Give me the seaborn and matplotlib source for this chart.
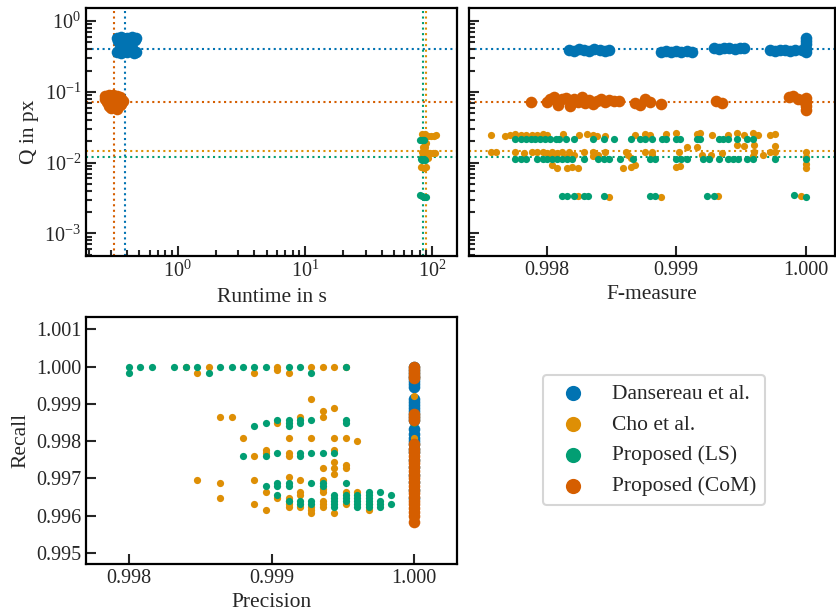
import matplotlib
matplotlib.use("Agg")
import matplotlib.pyplot as plt
import matplotlib.ticker as mticker
import seaborn as sns

methods = ["Dansereau et al.", "Cho et al.", "Proposed (LS)", "Proposed (CoM)"]

# medians (dotted guide lines)
q_median = [0.40, 0.0147, 0.0119, 0.072]
rt_median = [0.386, 90.3, 85.2, 0.313]

# ---- runtime vs Q
dan_runtime = [0.33, 0.36, 0.40, 0.44, 0.47, 0.34, 0.37, 0.42, 0.46, 0.36, 0.39, 0.42,
               0.35, 0.38, 0.41, 0.44, 0.33, 0.36, 0.40, 0.45, 0.47, 0.38]
dan_q_rt = [0.58, 0.59, 0.57, 0.59, 0.58, 0.52, 0.53, 0.51, 0.54, 0.46, 0.45, 0.46,
            0.41, 0.40, 0.40, 0.42, 0.36, 0.35, 0.36, 0.35, 0.37, 0.38]
cho_runtime = [84, 88, 93, 98, 104, 107, 86, 90, 85, 88, 84, 90, 96, 102, 106, 83, 87, 92, 82, 86, 90]
cho_q_rt = [0.025, 0.025, 0.024, 0.024, 0.024, 0.0245, 0.020, 0.019, 0.0168, 0.0168, 0.0143,
            0.0140, 0.0137, 0.0135, 0.0135, 0.0120, 0.0118, 0.0118, 0.0088, 0.0085, 0.0086]
ls_runtime = [81, 83, 85, 87, 82, 84, 86, 88, 81, 84, 87, 90]
ls_q_rt = [0.021, 0.021, 0.021, 0.021, 0.0112, 0.0110, 0.0111, 0.0110, 0.0035, 0.0034, 0.0033, 0.0033]
com_runtime = [0.27, 0.29, 0.31, 0.33, 0.35, 0.27, 0.30, 0.33, 0.36, 0.37, 0.28, 0.31, 0.34,
               0.36, 0.29, 0.32, 0.35, 0.30, 0.33]
com_q_rt = [0.088, 0.090, 0.089, 0.086, 0.084, 0.078, 0.079, 0.077, 0.079, 0.074, 0.071, 0.072,
            0.070, 0.068, 0.064, 0.065, 0.066, 0.060, 0.058]

# ---- F-measure vs Q
dan_f = [0.99817, 0.99821, 0.99825, 0.99829, 0.99833, 0.99837, 0.99841, 0.99845, 0.99848,
         0.99888, 0.99892, 0.99896, 0.99900, 0.99904, 0.99908, 0.99912,
         0.99929, 0.99933, 0.99937, 0.99941, 0.99945, 0.99949, 0.99952,
         0.99972, 0.99976, 0.99980, 0.99984, 0.99988, 0.99992, 0.99997,
         1.0, 1.0, 1.0, 1.0, 1.0]
dan_q = [0.39, 0.38, 0.40, 0.39, 0.38, 0.40, 0.39, 0.38, 0.39,
         0.37, 0.38, 0.37, 0.375, 0.37, 0.38, 0.37,
         0.41, 0.40, 0.41, 0.41, 0.40, 0.41, 0.41,
         0.39, 0.38, 0.39, 0.39, 0.38, 0.39, 0.39,
         0.37, 0.40, 0.47, 0.53, 0.57]
cho_f = [0.99757, 0.99768, 0.99772, 0.99776, 0.99780, 0.99784, 0.99789, 0.99793, 0.99797, 0.99800,
         0.99813, 0.99825, 0.99831, 0.99836, 0.99839, 0.99845, 0.99868, 0.99876, 0.99880, 0.99892,
         0.99900, 0.99916, 0.99918, 0.99928, 0.99940, 0.99947, 0.99952, 0.99959, 0.99963, 0.99972,
         0.99976,
         0.99908, 0.99916, 0.99947, 0.99952, 0.99960, 0.99976,
         0.99757, 0.99761, 0.99776, 0.99783, 0.99789, 0.99793, 0.99797, 0.99800, 0.99804, 0.99808,
         0.99812, 0.99817, 0.99829, 0.99836, 0.99840, 0.99845, 0.99861, 0.99863, 0.99876, 0.99881,
         0.99902, 0.99920, 0.99927, 0.99935, 0.99960, 0.99967, 0.99972, 0.99976, 1.0,
         0.99803, 0.99807, 0.99815, 0.99821, 0.99836, 0.99865, 0.99881, 0.99959, 1.0,
         0.99804, 0.99808, 0.99816, 0.99820, 0.99824, 0.99859, 0.99865, 0.99868, 0.99900, 0.99903,
         1.0, 1.0,
         0.99824, 0.99848, 0.99888, 0.99932, 0.99996]
cho_q = [0.0245, 0.0236, 0.0245, 0.0252, 0.0245, 0.0245, 0.0245, 0.0245, 0.0252, 0.0245,
         0.0252, 0.0245, 0.0252, 0.0245, 0.0236, 0.0236, 0.0245, 0.0252, 0.0245, 0.0252,
         0.0259, 0.0252, 0.0259, 0.0245, 0.0245, 0.0259, 0.0245, 0.0259, 0.0245, 0.0245,
         0.0252,
         0.0168, 0.0168, 0.0177, 0.0172, 0.0177, 0.0172,
         0.0140, 0.0140, 0.0143, 0.0135, 0.0143, 0.0140, 0.0143, 0.0135, 0.0143, 0.0135,
         0.0140, 0.0143, 0.0140, 0.0140, 0.0129, 0.0143, 0.0143, 0.0129, 0.0143, 0.0140,
         0.0140, 0.0129, 0.0129, 0.0135, 0.0140, 0.0129, 0.0140, 0.0143, 0.0140,
         0.0121, 0.0121, 0.0121, 0.0127, 0.0123, 0.0118, 0.0129, 0.0123, 0.0121,
         0.0093, 0.0083, 0.0083, 0.0087, 0.0085, 0.0084, 0.0087, 0.0093, 0.0087, 0.0089,
         0.0097, 0.0083,
         0.0034, 0.0033, 0.0033, 0.0034, 0.0034]
ls_f = [0.99776, 0.99780, 0.99784, 0.99788, 0.99791, 0.99795, 0.99799, 0.99803, 0.99807, 0.99810,
        0.99815, 0.99821, 0.99836, 0.99844, 0.99852, 0.99865, 0.99872, 0.99876, 0.99881, 0.99889,
        0.99892, 0.99900, 0.99903, 0.99916, 0.99918, 0.99933, 0.99936, 0.99940, 0.99947, 0.99955,
        0.99959,
        0.99776, 0.99780, 0.99784, 0.99793, 0.99797, 0.99800, 0.99804, 0.99808, 0.99812, 0.99816,
        0.99820, 0.99829, 0.99840, 0.99844, 0.99848, 0.99857, 0.99867, 0.99880, 0.99884, 0.99900,
        0.99904, 0.99908, 0.99921, 0.99925, 0.99933, 0.99940, 0.99944, 0.99948, 0.99955, 0.99959,
        0.99976, 1.0,
        0.99812, 0.99816, 0.99821, 0.99829, 0.99832, 0.99844, 0.99880, 0.99884, 0.99924, 0.99929,
        0.99991, 1.0]
ls_q = [0.0213] * 31 + [0.0111] * 32 + \
       [0.0034, 0.0034, 0.0034, 0.0034, 0.0034, 0.0034, 0.0034, 0.0034, 0.0034, 0.0034, 0.0035, 0.0033]
com_f = [0.99788,
         0.99800, 0.99803, 0.99806, 0.99809, 0.99812, 0.99815, 0.99818, 0.99821, 0.99824, 0.99827,
         0.99830, 0.99833, 0.99836, 0.99839, 0.99842, 0.99845, 0.99848, 0.99852, 0.99856,
         0.99868, 0.99872, 0.99876, 0.99880, 0.99888,
         0.99931, 0.99935,
         0.99987, 0.99990, 0.99994, 0.99998, 1.0, 1.0, 1.0, 1.0]
com_q = [0.072,
         0.073, 0.080, 0.085, 0.066, 0.078, 0.083, 0.064, 0.080, 0.073, 0.085,
         0.070, 0.076, 0.067, 0.074, 0.078, 0.072, 0.076, 0.074, 0.075,
         0.070, 0.066, 0.078, 0.072, 0.068,
         0.074, 0.070,
         0.084, 0.086, 0.080, 0.076, 0.082, 0.072, 0.064, 0.056]

# ---- precision vs recall
dan_recall = [1.0, 0.99992, 0.99984, 0.99976, 0.99968, 0.9996, 0.99952, 0.99944,
              0.99912, 0.99904, 0.99896, 0.99888, 0.9988, 0.99872, 0.99864, 0.99856,
              0.99832, 0.9982, 0.99808, 0.998, 0.99792, 0.9978, 0.9977, 0.9975, 0.9973,
              0.9971, 0.9969, 0.9967, 0.99648]
dan_precision = [1.0] * len(dan_recall)
cho_precision = [0.9984, 0.99856, 0.99904, 0.99928, 0.99936, 0.99944, 0.99952, 0.99904,
                 0.99848, 0.99888, 0.99912,
                 0.99928, 0.99944, 0.99936, 0.99936, 0.99864, 0.99872, 0.9992, 0.99904, 1.0,
                 0.9988, 0.99912, 0.99928, 0.99944, 0.99952, 0.9996, 1.0,
                 0.99888, 0.99896, 0.99896, 0.99912, 0.99912, 0.99944,
                 0.99936, 0.99944, 0.99944, 0.99944, 0.99952, 0.99952,
                 0.99848, 0.99864, 0.99864, 0.99888, 0.99888, 0.99896, 0.99896, 0.99904,
                 0.99912, 0.99912, 0.99912, 0.99912, 0.99912, 0.9992, 0.9992, 0.9992, 0.9992,
                 0.99928, 0.99928, 0.99928, 0.99936, 0.99936, 0.99936, 0.99936, 0.99936,
                 0.99936, 0.99944, 0.99952, 0.99952, 0.9996, 0.99968, 0.99968]
cho_recall = [1.0, 1.0, 1.0, 1.0, 1.0, 1.0, 1.0, 0.99992,
              0.99984, 0.99984, 0.99984,
              0.99912, 0.99888, 0.9988, 0.99864, 0.99864, 0.99864, 0.99864, 0.99848, 0.9992,
              0.99808, 0.99808, 0.99808, 0.99808, 0.99808, 0.998, 0.99808,
              0.9976, 0.99776, 0.99768, 0.99768, 0.9976, 0.99776,
              0.99728, 0.99744, 0.99728, 0.99712, 0.99736, 0.99728,
              0.99696, 0.99688, 0.99648, 0.99696, 0.99632, 0.99664, 0.99616, 0.99648,
              0.99704, 0.99648, 0.9964, 0.99632, 0.99624, 0.99696, 0.99664, 0.99656, 0.99624,
              0.99624, 0.99616, 0.99608, 0.99696, 0.99672, 0.99664, 0.9964, 0.99632,
              0.99624, 0.99608, 0.99664, 0.99632, 0.99664, 0.99632, 0.99616]
ls_precision = [0.998, 0.99808, 0.99816, 0.99832, 0.9984, 0.99848, 0.99864, 0.99872, 0.9988,
                0.99888, 0.99896, 0.99912, 0.9992, 0.99952,
                0.998, 0.99856, 0.99928,
                0.99888, 0.99896, 0.99904, 0.99912, 0.99912, 0.99912, 0.9992, 0.9992, 0.99928,
                0.99952, 0.99952, 1.0,
                0.9988, 0.99896, 0.99904, 0.9992, 0.9992, 0.99928, 0.99936, 0.99944,
                0.99896, 0.99904, 0.99904, 0.99904, 0.99912, 0.99912, 0.99912, 0.9992, 0.9992,
                0.99928, 0.99928, 0.99928, 0.99936, 0.99936, 0.99944, 0.99944, 0.99944, 0.99944,
                0.99944, 0.99952, 0.99952, 0.99952, 0.99952, 0.9996, 0.9996, 0.9996, 0.9996,
                0.9996, 0.99968, 0.99968, 0.99968, 0.99968, 0.99968, 0.99968, 0.99976, 0.99976,
                0.99976, 0.99976, 0.99984, 0.99984]
ls_recall = [1.0, 1.0, 1.0, 1.0, 1.0, 1.0, 1.0, 1.0, 1.0,
             1.0, 1.0, 1.0, 1.0, 1.0,
             0.99984, 0.99984, 0.99984,
             0.9984, 0.99848, 0.99856, 0.99856, 0.99848, 0.9984, 0.99856, 0.99848, 0.99856,
             0.99856, 0.99848, 0.99848,
             0.9976, 0.9976, 0.99768, 0.99768, 0.9976, 0.99768, 0.99768, 0.99768,
             0.9968, 0.99688, 0.9968, 0.99656, 0.99688, 0.9968, 0.9964, 0.9964, 0.99632,
             0.99688, 0.9964, 0.99632, 0.99688, 0.9968, 0.99656, 0.99648, 0.9964, 0.99632,
             0.99624, 0.99688, 0.99656, 0.99648, 0.9964, 0.99656, 0.99648, 0.9964, 0.99632,
             0.99624, 0.99664, 0.99656, 0.99648, 0.9964, 0.99632, 0.99624, 0.99664, 0.9964,
             0.99632, 0.99624, 0.99656, 0.99632]
com_recall = [1.0, 0.99992, 0.99984, 0.99976, 0.99968, 0.99872, 0.99864, 0.99856,
              0.99792, 0.9978, 0.9977, 0.9976, 0.9975, 0.9974, 0.9973, 0.9972, 0.9971, 0.997,
              0.9969, 0.9968, 0.9967, 0.9966, 0.9965, 0.9964, 0.9963, 0.9962, 0.9961, 0.996,
              0.99584]
com_precision = [1.0] * len(com_recall)

sns.set_style("ticks")
plt.rcParams["font.family"] = ["Liberation Serif", "DejaVu Serif"]
plt.rcParams["mathtext.fontset"] = "custom"
plt.rcParams["mathtext.rm"] = "Liberation Serif"
plt.rcParams["axes.linewidth"] = 1.6
font_size = 14.5
label_size = 15.5

colors = sns.color_palette("colorblind")
col = {"Dansereau et al.": colors[0], "Cho et al.": colors[1],
       "Proposed (LS)": colors[2], "Proposed (CoM)": colors[3]}
sizes = {"Dansereau et al.": 70, "Cho et al.": 27, "Proposed (LS)": 27, "Proposed (CoM)": 70}

fig = plt.figure(figsize=(8.36, 6.14), dpi=100)
ax_rt = fig.add_axes([0.1029, 0.5831, 0.4438, 0.4039])
ax_f = fig.add_axes([0.5610, 0.5831, 0.4378, 0.4039])
ax_pr = fig.add_axes([0.1029, 0.0814, 0.4438, 0.4023])

rt_data = [(dan_runtime, dan_q_rt), (cho_runtime, cho_q_rt), (ls_runtime, ls_q_rt), (com_runtime, com_q_rt)]
f_data = [(dan_f, dan_q), (cho_f, cho_q), (ls_f, ls_q), (com_f, com_q)]
pr_data = [(dan_precision, dan_recall), (cho_precision, cho_recall),
           (ls_precision, ls_recall), (com_precision, com_recall)]

for i, m in enumerate(methods):
    c = col[m]
    ax_rt.axhline(q_median[i], ls=":", lw=1.5, color=c, zorder=0.5)
    ax_rt.axvline(rt_median[i], ls=":", lw=1.5, color=c, zorder=0.5)
    ax_f.axhline(q_median[i], ls=":", lw=1.5, color=c, zorder=0.5)

for i, m in enumerate(methods):
    c = col[m]
    sns.scatterplot(x=rt_data[i][0], y=rt_data[i][1], color=c, s=sizes[m], linewidth=0,
                    ax=ax_rt, legend=False, zorder=2 + i)
    sns.scatterplot(x=f_data[i][0], y=f_data[i][1], color=c, s=sizes[m], linewidth=0,
                    ax=ax_f, legend=False, zorder=2 + i)
    sns.scatterplot(x=pr_data[i][0], y=pr_data[i][1], color=c, s=sizes[m], linewidth=0,
                    ax=ax_pr, legend=False, zorder=2 + i, label=m)

for ax in (ax_rt, ax_f):
    ax.set_yscale("log")
    ax.set_ylim(4.8e-4, 1.53)
ax_rt.set_xscale("log")
ax_rt.set_xlim(0.19, 157)
ax_f.set_xlim(0.997402, 1.000225)
ax_pr.set_xlim(0.9977, 1.0003)
ax_pr.set_ylim(0.9947, 1.00133)

for ax in (ax_f, ax_pr):
    ax.xaxis.set_major_locator(mticker.FixedLocator([0.998, 0.999, 1.0]))
    ax.xaxis.set_major_formatter(mticker.FormatStrFormatter("%.3f"))
ax_pr.yaxis.set_major_locator(mticker.FixedLocator([0.995, 0.996, 0.997, 0.998, 0.999, 1.0, 1.001]))
ax_pr.yaxis.set_major_formatter(mticker.FormatStrFormatter("%.3f"))
ax_f.tick_params(labelleft=False)

for ax in (ax_rt, ax_f, ax_pr):
    ax.tick_params(which="both", direction="in", top=False, right=False, width=1.5,
                   labelsize=font_size)
    ax.tick_params(which="major", length=7.5)
    ax.tick_params(which="minor", length=4)
    for sp in ax.spines.values():
        sp.set_linewidth(1.6)
        sp.set_color("black")

ax_rt.set_xlabel("Runtime in s", fontsize=label_size)
ax_rt.set_ylabel("Q in px", fontsize=label_size)
ax_f.set_xlabel("F-measure", fontsize=label_size)
ax_pr.set_xlabel("Precision", fontsize=label_size)
ax_pr.set_ylabel("Recall", fontsize=label_size)

handles, labels = ax_pr.get_legend_handles_labels()
leg = fig.legend(handles, labels, loc="center", bbox_to_anchor=(0.7823, 0.2834),
                 fontsize=label_size, frameon=True, fancybox=True, edgecolor="#cccccc")
leg.get_frame().set_linewidth(1.5)
for h in leg.legend_handles:
    h.set_sizes([120])

fig.savefig("out.png", dpi=100)
